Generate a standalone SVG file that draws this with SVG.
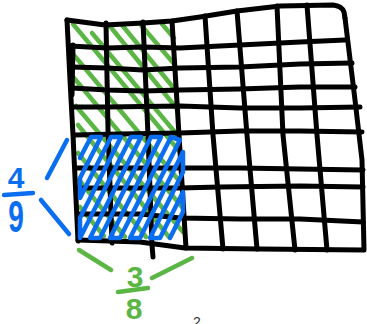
<svg xmlns="http://www.w3.org/2000/svg" width="367" height="324" viewBox="0 0 367 324">
<style>
.g{stroke:#5cb646;stroke-width:4.5;stroke-linecap:round;stroke-linejoin:round;fill:none}
.k{stroke:#000;stroke-width:5;stroke-linecap:round;stroke-linejoin:round;fill:none}
.b{stroke:#0b6ef0;stroke-width:4.5;stroke-linecap:round;stroke-linejoin:round;fill:none}
.tb{font-family:"Liberation Sans",Arial,sans-serif;font-weight:bold;fill:#0b6ef0;text-anchor:middle}
.tg{font-family:"Liberation Sans",Arial,sans-serif;font-weight:bold;fill:#5cb646;text-anchor:middle}
</style>
<rect width="367" height="324" fill="#fff"/>
<g id="green-hatch">
<path class="g" d="M162 24L174 38"/>
<path class="g" d="M141 25L175 65"/>
<path class="g" d="M122 25L177 92"/>
<path class="g" d="M109 25L178 110"/>
<path class="g" d="M92 33L179 137"/>
<path class="g" d="M73 24L180 152"/>
<path class="g" d="M73 54L181 183"/>
<path class="g" d="M74 78L182 207"/>
<path class="g" d="M76 106L183 232"/>
<path class="g" d="M78 125L169 237"/>
<path class="g" d="M78 153L146 237"/>
<path class="g" d="M79 180L125 237"/>
<path class="g" d="M80 207L104 236"/>
</g>
<g id="grid">
<path class="k" d="M67 20L105 25L143 23L172 21L200 17L237 11L280 6L333 5Q342 6 344 12L345 18"/>
<path class="k" d="M70 46L107 48L143 47L180 48L240 45L300 42L345 40"/>
<path class="k" d="M71 67L107 68L143 70L180 68L240 67L300 64L352 63"/>
<path class="k" d="M72 88L107 90L143 91L180 90L240 89L300 87L355 87"/>
<path class="k" d="M73 107L107 107L180 106L240 108L300 108L360 107"/>
<path class="k" d="M75 135L120 134L180 133L240 131L300 131L362 132"/>
<path class="k" d="M77 168L180 168L240 168L300 169L363 170"/>
<path class="k" d="M78 188L180 188L220 187L300 186L363 187"/>
<path class="k" d="M78 214L140 214L180 218L240 219L300 219L363 222"/>
<path class="k" d="M78 240L140 242L185 248L260 249L363 250"/>
<path class="k" d="M67 20L70 80L73 135L78 241"/>
<path class="k" d="M73 45L72 95"/>
<path class="k" d="M106 23L108 130L112 243"/>
<path class="k" d="M143 22L148 135L152 245L153 257"/>
<path class="k" d="M172 21L179 135L186 248"/>
<path class="k" d="M205 16L213 135L223 249"/>
<path class="k" d="M237 11L247 135L257 249"/>
<path class="k" d="M277 6L283 135L295 250"/>
<path class="k" d="M307 5L317 135L327 250"/>
<path class="k" d="M345 18L355 100L362 160L364 250"/>
</g>
<g id="blue-hatch">
<path class="b" d="M80 158L91 137L101 137L80 178L80 198L111 137L121 137L80 218L80 238L131 137L141 137L90 238L100 238L151 137L161 137L110 238L120 238L171 137L180 140L130 238L140 238L183 152L183 172L150 238L160 238L183 192L183 212L170 238"/>
</g>
<g id="label-4-9">
<path class="b" d="M47 178L67 140"/>
<path class="b" d="M41 200L69 234"/>
<path class="b" d="M4 195L33 193"/>
<text class="tb" x="16" y="188" font-size="30">4</text>
<text class="tb" transform="translate(16,232) scale(0.8,1.25)" font-size="35">9</text>
</g>
<g id="label-3-8">
<path class="g" d="M79 250L111 270"/>
<path class="g" d="M152 278L192 258"/>
<path class="g" d="M118 292L148 288"/>
<text class="tg" x="135" y="287" font-size="30">3</text>
<text class="tg" x="134" y="319" font-size="30">8</text>
</g>
<text x="197" y="327" font-family="'Liberation Sans',Arial,sans-serif" font-size="14" fill="#333" text-anchor="middle">2</text>
</svg>
